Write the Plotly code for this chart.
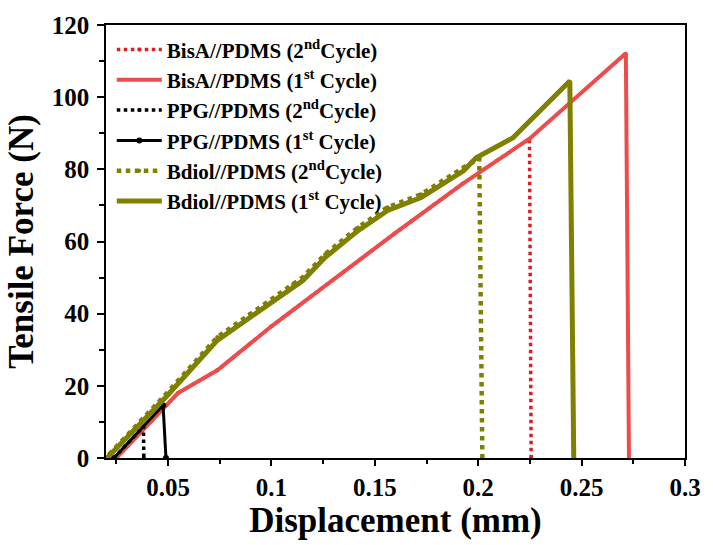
import plotly.graph_objects as go

# ---- data ----
bisA1_x = [0.025, 0.049, 0.0548, 0.0738, 0.1000, 0.1595, 0.1924, 0.2248, 0.2714, 0.2729]
bisA1_y = [0.0, 14.6, 18.0, 24.3, 36.5, 62.2, 76.0, 88.5, 112.2, 0.0]

bisA2_x = [0.025, 0.049, 0.0548, 0.0738, 0.1000, 0.1595, 0.1924, 0.2248, 0.2256]
bisA2_y = [0.0, 14.6, 18.0, 24.3, 36.5, 62.2, 76.0, 88.5, 0.0]

ppg1_x = [0.0238, 0.0476, 0.0490]
ppg1_y = [0.0, 14.6, 0.0]

ppg2_x = [0.0238, 0.0381, 0.0383]
ppg2_y = [0.0, 8.7, 0.0]

bdiol1_x = [0.0205, 0.049, 0.0738, 0.0895, 0.1105, 0.1152, 0.126, 0.1419, 0.1562,
            0.1724, 0.1929, 0.199, 0.2167, 0.2443, 0.2462]
bdiol1_y = [0.0, 16.9, 32.6, 39.0, 47.3, 49.2, 55.6, 63.0, 68.6,
            72.2, 79.6, 83.2, 88.7, 104.5, 0.0]

bdiol2_x = [0.0215, 0.049, 0.0738, 0.0895, 0.1105, 0.1152, 0.126, 0.1419, 0.1562,
            0.1724, 0.1929, 0.2005, 0.2020]
bdiol2_y = [1.0, 17.7, 33.5, 39.9, 48.2, 50.1, 56.5, 63.9, 69.5,
            73.1, 80.5, 83.0, 0.0]

names = [
    "BisA//PDMS (2<sup>nd</sup>Cycle)",
    "BisA//PDMS (1<sup>st</sup> Cycle)",
    "PPG//PDMS (2<sup>nd</sup>Cycle)",
    "PPG//PDMS (1<sup>st</sup> Cycle)",
    "Bdiol//PDMS (2<sup>nd</sup>Cycle)",
    "Bdiol//PDMS (1<sup>st</sup> Cycle)",
]

RED_DOT = "#D91F26"
RED = "#EC4C4C"
BLACK = "#000000"
OLIVE = "#808000"

fig = go.Figure()

fig.add_trace(go.Scatter(x=bisA2_x, y=bisA2_y, name=names[0], mode="lines+markers",
                         line=dict(color=RED_DOT, width=3.5, dash="dot"),
                         marker=dict(size=4, color=RED_DOT)))
fig.add_trace(go.Scatter(x=bisA1_x, y=bisA1_y, name=names[1], mode="lines+markers",
                         line=dict(color=RED, width=4),
                         marker=dict(size=3, color=RED)))
fig.add_trace(go.Scatter(x=ppg2_x, y=ppg2_y, name=names[2], mode="lines+markers",
                         line=dict(color=BLACK, width=3.5, dash="dot"),
                         marker=dict(size=4, color=BLACK)))
fig.add_trace(go.Scatter(x=ppg1_x, y=ppg1_y, name=names[3], mode="lines+markers",
                         line=dict(color=BLACK, width=3),
                         marker=dict(size=6, color=BLACK)))
fig.add_trace(go.Scatter(x=bdiol2_x, y=bdiol2_y, name=names[4], mode="lines+markers",
                         line=dict(color=OLIVE, width=4.5, dash="dot"),
                         marker=dict(size=4, color=OLIVE)))
fig.add_trace(go.Scatter(x=bdiol1_x, y=bdiol1_y, name=names[5], mode="lines+markers",
                         line=dict(color=OLIVE, width=5),
                         marker=dict(size=3, color=OLIVE)))

SERIF = "Liberation Serif"

fig.update_layout(
    width=713, height=545,
    margin=dict(l=106, r=18, t=24, b=87),
    paper_bgcolor="white", plot_bgcolor="white",
    font=dict(family=SERIF, color="black"),
    showlegend=True,
    legend=dict(
        x=0.01, y=0.99, xanchor="left", yanchor="top",
        bgcolor="rgba(0,0,0,0)",
        itemwidth=45,
        font=dict(family=SERIF, size=21, color="black", weight="bold"),
        tracegroupgap=0,
    ),
    xaxis=dict(
        range=[0.02, 0.3],
        tickmode="array",
        tickvals=[0.05, 0.1, 0.15, 0.2, 0.25, 0.3],
        ticktext=["0.05", "0.1", "0.15", "0.2", "0.25", "0.3"],
        ticks="outside", ticklen=6, tickwidth=1.5, tickcolor="black",
        minor=dict(ticks="outside", tickvals=[0.025, 0.075, 0.125, 0.175, 0.225, 0.275],
                   ticklen=4, tickwidth=1.5, tickcolor="black"),
        showline=True, linecolor="black", linewidth=1.5, mirror=True,
        showgrid=False, zeroline=False,
        tickfont=dict(family=SERIF, size=25, color="black", weight="bold"),
        title=dict(text="Displacement (mm)", standoff=6,
                   font=dict(family=SERIF, size=35, color="black", weight="bold")),
    ),
    yaxis=dict(
        range=[0, 120],
        tickmode="array",
        tickvals=[0, 20, 40, 60, 80, 100, 120],
        ticks="outside", ticklen=7, tickwidth=1.5, tickcolor="black",
        ticklabelstandoff=3,
        minor=dict(ticks="outside", tickvals=[10, 30, 50, 70, 90, 110],
                   ticklen=5, tickwidth=1.5, tickcolor="black"),
        showline=True, linecolor="black", linewidth=1.5, mirror=True,
        showgrid=False, zeroline=False,
        tickfont=dict(family=SERIF, size=25, color="black", weight="bold"),
        title=dict(text="Tensile Force (N)", standoff=8,
                   font=dict(family=SERIF, size=35, color="black", weight="bold")),
    ),
)

fig.write_html("out.html")
